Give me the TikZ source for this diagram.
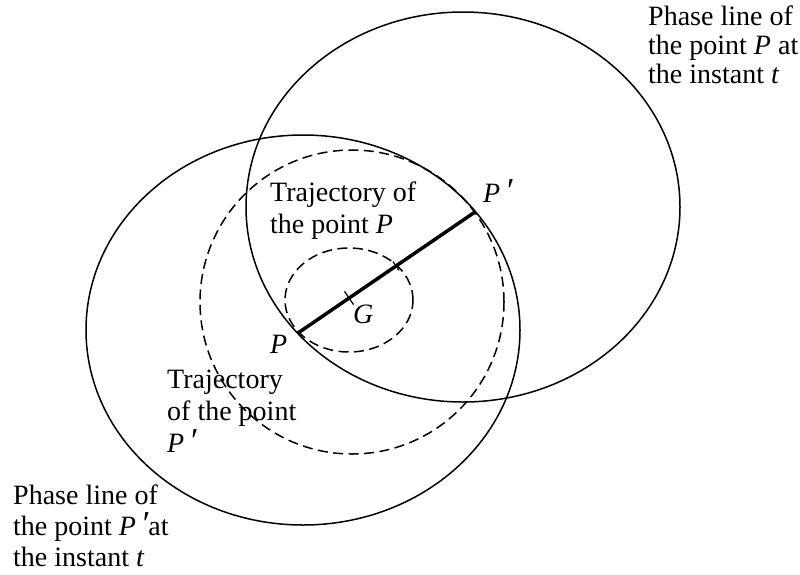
\documentclass[tikz,border=0pt]{standalone}
\usepackage{fontspec}
\setmainfont{Liberation Serif}
\usetikzlibrary{calc}
\newcommand{\primeP}{\textit{P\,\scalebox{1.25}{′}}}
\begin{document}
\begin{tikzpicture}[x=1pt,y=-1pt,
  curve/.style={line width=1.5pt},
  dcurve/.style={line width=1.5pt, dash pattern=on 10pt off 5.5pt},
  seg/.style={line width=3.5pt},
  tick/.style={line width=1.2pt},
  lbl/.style={anchor=base west, inner sep=0pt, align=left,
    font=\fontsize{28}{32}\selectfont}]
\useasboundingbox (0,0) rectangle (800,574);
% key points
\coordinate (P) at (298,333);
\coordinate (Pp) at (475,212);
\coordinate (G) at (349,298);
% phase lines
\draw[curve] (463,207) ellipse [x radius=217pt, y radius=195pt];
\draw[curve] (303,330) ellipse [x radius=217pt, y radius=195pt];
% trajectories
\draw[dcurve] (349,300) ellipse [x radius=64pt, y radius=52pt];
\draw[dcurve] (352,302) circle [radius=152pt];
% segment
\draw[seg] (P) -- (Pp);
\draw[tick] ($(G)+(-4.5,-6.6)$) -- ($(G)+(4.5,6.6)$);
\coordinate (T2) at (396,266);
\draw[tick] ($(T2)+(-3,-4.4)$) -- ($(T2)+(3,4.4)$);
% labels (anchored at the baseline of the last line)
\node[lbl, font=\fontsize{28}{29}\selectfont] (tr) at (648,83) {Phase line of\\the point \textit{P} at\\the instant \textit{t}};
\node[lbl] (tp) at (270,233) {Trajectory of\\the point \textit{P}};
\node[lbl] (tpp) at (167,452) {Trajectory\\of the point\\\primeP};
\node[lbl, font=\fontsize{28}{31}\selectfont] (bl) at (13,566) {Phase line of\\the point \primeP at\\the instant \textit{t}};
\node[lbl] (lPp) at (483,202) {\primeP};
\node[lbl] (lP) at (270,353) {\textit{P}};
\node[lbl] (lG) at (353,323) {\textit{G}};
\end{tikzpicture}
\end{document}
